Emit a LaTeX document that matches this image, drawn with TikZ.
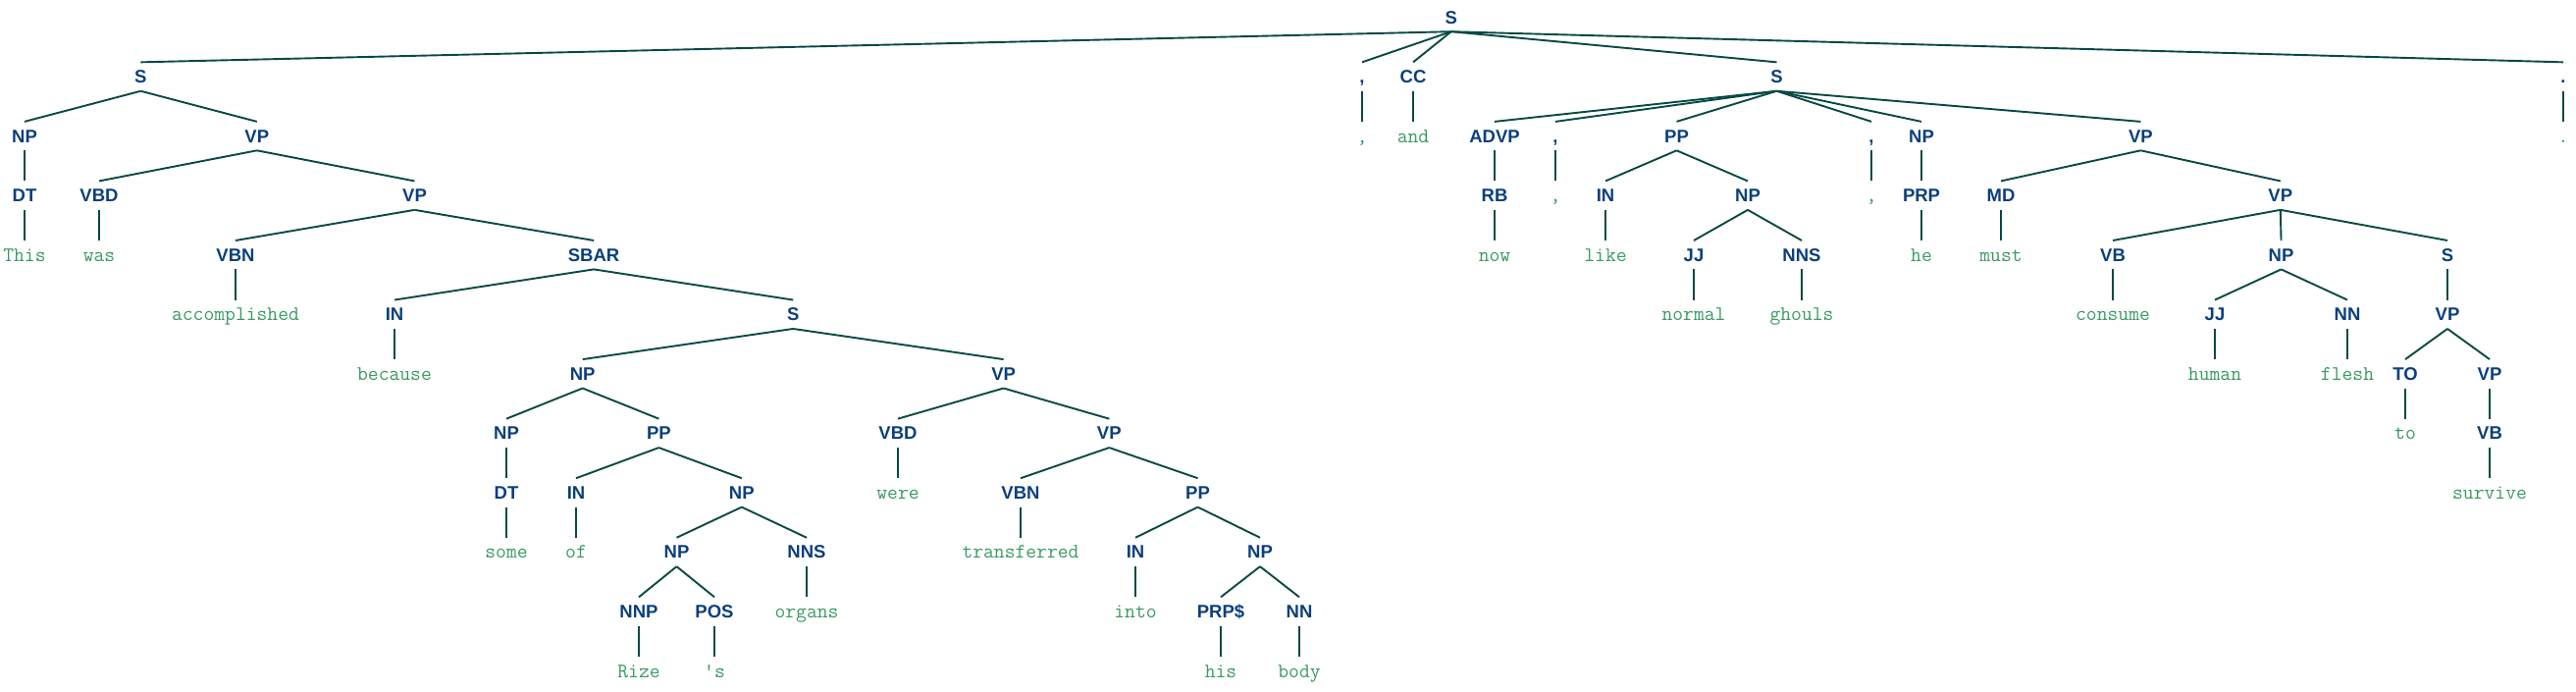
\documentclass[tikz,border=0pt]{standalone}
\usepackage{fontspec}
\newfontfamily\labfont{Liberation Sans}
\definecolor{labc}{HTML}{0B3F7D}
\definecolor{wordc}{HTML}{3A9A62}
\definecolor{edgec}{HTML}{074A43}
\tikzset{
  lab/.style={font=\labfont\bfseries\fontsize{18.5}{18.5}\selectfont, text=labc, inner sep=0pt, text height=21pt, text depth=8pt, anchor=base},
  word/.style={font=\ttfamily\fontsize{21}{21}\selectfont, text=wordc, inner sep=0pt, text height=21pt, text depth=8pt, anchor=base},
  edge/.style={draw=edgec, line width=1.9pt}
}
\begin{document}
\begin{tikzpicture}[x=1pt,y=-1pt]
\useasboundingbox (0,0) rectangle (2625,704);
% L0
\node[lab] (r) at (1478.8,24) {S};
% L1
\node[lab] (s1) at (143.4,84.55) {S};
\node[lab] (c1) at (1388,84.55) {,};
\node[lab] (cc) at (1440,84.55) {CC};
\node[lab] (s2) at (1810.5,84.55) {S};
\node[lab] (pd) at (2612,84.55) {.};
% L2
\node[lab] (np1) at (25,145.1) {NP};
\node[lab] (vp1) at (261.8,145.1) {VP};
\node[word] (wc1) at (1388,145.1) {,};
\node[word] (wand) at (1440,145.1) {and};
\node[lab] (advp) at (1523,145.1) {ADVP};
\node[lab] (c2) at (1585,145.1) {,};
\node[lab] (pp1) at (1708.5,145.1) {PP};
\node[lab] (c3) at (1907,145.1) {,};
\node[lab] (np2) at (1958,145.1) {NP};
\node[lab] (vp2) at (2181.4,145.1) {VP};
\node[word] (wpd) at (2612,145.1) {.};
% L3
\node[lab] (dt1) at (25,205.65) {DT};
\node[lab] (vbd1) at (101,205.65) {VBD};
\node[lab] (vp3) at (422.5,205.65) {VP};
\node[lab] (rb) at (1523,205.65) {RB};
\node[word] (wc2) at (1585,205.65) {,};
\node[lab] (in1) at (1636,205.65) {IN};
\node[lab] (np3) at (1781,205.65) {NP};
\node[word] (wc3) at (1907,205.65) {,};
\node[lab] (prp) at (1958,205.65) {PRP};
\node[lab] (md) at (2039,205.65) {MD};
\node[lab] (vp4) at (2323.8,205.65) {VP};
% L4
\node[word] (wthis) at (25,266.2) {This};
\node[word] (wwas) at (101,266.2) {was};
\node[lab] (vbn1) at (240,266.2) {VBN};
\node[lab] (sbar) at (605.1,266.2) {SBAR};
\node[word] (wnow) at (1523,266.2) {now};
\node[word] (wlike) at (1636,266.2) {like};
\node[lab] (jj1) at (1726,266.2) {JJ};
\node[lab] (nns1) at (1836,266.2) {NNS};
\node[word] (whe) at (1958,266.2) {he};
\node[word] (wmust) at (2039,266.2) {must};
\node[lab] (vb1) at (2153,266.2) {VB};
\node[lab] (np4) at (2324.5,266.2) {NP};
\node[lab] (s3) at (2494,266.2) {S};
% L5
\node[word] (wacc) at (240,326.75) {accomplished};
\node[lab] (in2) at (402,326.75) {IN};
\node[lab] (s4) at (808.2,326.75) {S};
\node[word] (wnormal) at (1726,326.75) {normal};
\node[word] (wghouls) at (1836,326.75) {ghouls};
\node[word] (wconsume) at (2153,326.75) {consume};
\node[lab] (jj2) at (2257,326.75) {JJ};
\node[lab] (nn1) at (2392,326.75) {NN};
\node[lab] (vp5) at (2494,326.75) {VP};
% L6
\node[word] (wbecause) at (402,387.3) {because};
\node[lab] (np5) at (593.7,387.3) {NP};
\node[lab] (vp6) at (1022.6,387.3) {VP};
\node[word] (whuman) at (2257,387.3) {human};
\node[word] (wflesh) at (2392,387.3) {flesh};
\node[lab] (to) at (2451,387.3) {TO};
\node[lab] (vp7) at (2537,387.3) {VP};
% L7
\node[lab] (np6) at (516,447.85) {NP};
\node[lab] (pp2) at (671.4,447.85) {PP};
\node[lab] (vbd2) at (915,447.85) {VBD};
\node[lab] (vp8) at (1130.3,447.85) {VP};
\node[word] (wto) at (2451,447.85) {to};
\node[lab] (vb2) at (2537,447.85) {VB};
% L8
\node[lab] (dt2) at (516,508.4) {DT};
\node[lab] (in3) at (587,508.4) {IN};
\node[lab] (np7) at (755.8,508.4) {NP};
\node[word] (wwere) at (915,508.4) {were};
\node[lab] (vbn2) at (1040,508.4) {VBN};
\node[lab] (pp3) at (1220.5,508.4) {PP};
\node[word] (wsurvive) at (2537,508.4) {survive};
% L9
\node[word] (wsome) at (516,568.95) {some};
\node[word] (wof) at (587,568.95) {of};
\node[lab] (np8) at (689.5,568.95) {NP};
\node[lab] (nns2) at (822,568.95) {NNS};
\node[word] (wtrans) at (1040,568.95) {transferred};
\node[lab] (in4) at (1157,568.95) {IN};
\node[lab] (np9) at (1284,568.95) {NP};
% L10
\node[lab] (nnp) at (651,629.5) {NNP};
\node[lab] (pos) at (728,629.5) {POS};
\node[word] (worgans) at (822,629.5) {organs};
\node[word] (winto) at (1157,629.5) {into};
\node[lab] (prps) at (1244,629.5) {PRP\$};
\node[lab] (nn2) at (1324,629.5) {NN};
% L11
\node[word] (wrize) at (651,690.05) {Rize};
\node[word] (ws) at (728,690.05) {\textquotesingle s};
\node[word] (whis) at (1244,690.05) {his};
\node[word] (wbody) at (1324,690.05) {body};
% edges
\foreach \a/\b in {r/s1,r/c1,r/cc,r/s2,r/pd,
  s1/np1,s1/vp1,c1/wc1,cc/wand,pd/wpd,
  np1/dt1,vp1/vbd1,vp1/vp3,dt1/wthis,vbd1/wwas,
  vp3/vbn1,vp3/sbar,vbn1/wacc,sbar/in2,sbar/s4,in2/wbecause,
  s4/np5,s4/vp6,np5/np6,np5/pp2,np6/dt2,dt2/wsome,
  pp2/in3,pp2/np7,in3/wof,np7/np8,np7/nns2,
  np8/nnp,np8/pos,nnp/wrize,pos/ws,nns2/worgans,
  vp6/vbd2,vp6/vp8,vbd2/wwere,vp8/vbn2,vp8/pp3,vbn2/wtrans,
  pp3/in4,pp3/np9,in4/winto,np9/prps,np9/nn2,prps/whis,nn2/wbody,
  s2/advp,s2/c2,s2/pp1,s2/c3,s2/np2,s2/vp2,
  advp/rb,rb/wnow,c2/wc2,pp1/in1,pp1/np3,in1/wlike,
  np3/jj1,np3/nns1,jj1/wnormal,nns1/wghouls,c3/wc3,
  np2/prp,prp/whe,vp2/md,vp2/vp4,md/wmust,
  vp4/vb1,vp4/np4,vp4/s3,vb1/wconsume,
  np4/jj2,np4/nn1,jj2/whuman,nn1/wflesh,
  s3/vp5,vp5/to,vp5/vp7,to/wto,vp7/vb2,vb2/wsurvive}
  \draw[edge] (\a.south) -- (\b.north);
\end{tikzpicture}
\end{document}
